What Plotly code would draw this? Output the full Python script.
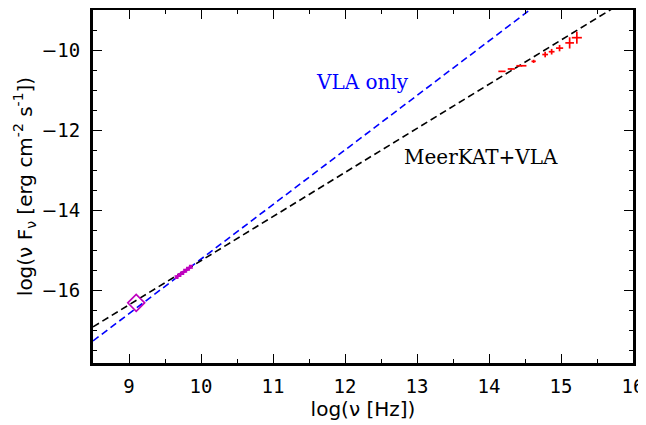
import plotly.graph_objects as go

# Model lines (log nu, log nuFnu) endpoints
model_x = [8.5, 16.0]
meerkat_vla_y = [-16.9, -8.65]
vla_only_y = [-17.25, -7.05]

# Radio data (purple)
radio_diamond_x = [9.10]
radio_diamond_y = [-16.30]
radio_x = [9.66, 9.70, 9.74, 9.78, 9.82, 9.86]
radio_y = [-15.66, -15.61, -15.56, -15.50, -15.45, -15.40]
radio_err = [0.03, 0.03, 0.03, 0.03, 0.03, 0.03]

# Optical/IR data (red)
opt_x = [14.18, 14.31, 14.45, 14.62, 14.78, 14.87, 14.98, 15.12, 15.22]
opt_y = [-10.53, -10.47, -10.39, -10.28, -10.11, -10.04, -9.95, -9.82, -9.69]
opt_xerr = [0.05, 0.05, 0.07, 0.03, 0.04, 0.04, 0.05, 0.06, 0.07]
opt_yerr = [0.01, 0.01, 0.02, 0.04, 0.07, 0.07, 0.08, 0.14, 0.15]

# Tick labels
x_ticks = [9, 10, 11, 12, 13, 14, 15, 16]
y_ticks = [-16, -14, -12, -10]

fig = go.Figure()

fig.add_trace(go.Scatter(x=model_x, y=vla_only_y, mode="lines",
                         line=dict(color="#0000ff", width=1.6, dash="7px,4px"),
                         showlegend=False, hoverinfo="skip"))
fig.add_trace(go.Scatter(x=model_x, y=meerkat_vla_y, mode="lines",
                         line=dict(color="black", width=1.6, dash="7px,4px"),
                         showlegend=False, hoverinfo="skip"))

fig.add_trace(go.Scatter(x=radio_x, y=radio_y, mode="lines+markers",
                         line=dict(color="#bf00bf", width=3),
                         marker=dict(color="#bf00bf", size=3),
                         error_y=dict(type="data", array=radio_err, color="#bf00bf", thickness=1.5, width=2),
                         showlegend=False))
fig.add_trace(go.Scatter(x=radio_diamond_x, y=radio_diamond_y, mode="markers",
                         marker=dict(symbol="diamond-open", color="#bf00bf", size=13,
                                     line=dict(width=1.6, color="#bf00bf")),
                         showlegend=False))

fig.add_trace(go.Scatter(x=opt_x, y=opt_y, mode="markers",
                         marker=dict(color="red", size=1),
                         error_x=dict(type="data", array=opt_xerr, color="red", thickness=1.7, width=0),
                         error_y=dict(type="data", array=opt_yerr, color="red", thickness=1.7, width=0),
                         showlegend=False))

fig.add_annotation(x=12.24, y=-10.79, text="VLA only", showarrow=False,
                   font=dict(family="DejaVu Serif", size=20, color="#0000ff"))
fig.add_annotation(x=13.89, y=-12.66, text="MeerKAT+VLA", showarrow=False,
                   font=dict(family="DejaVu Serif", size=20, color="black"))

axis_common = dict(
    showgrid=False, zeroline=False,
    showline=True, linecolor="black", linewidth=3, mirror="allticks",
    ticks="inside", ticklen=9, tickwidth=1.3, tickcolor="black",
    tickfont=dict(family="DejaVu Sans Mono", size=19, color="black"),
    minor=dict(ticks="inside", ticklen=4, tickwidth=1.1, tickcolor="black", dtick=0.5),
)

fig.update_xaxes(range=[8.5, 16.0], tickvals=x_ticks, ticktext=[str(v) for v in x_ticks],
                 ticklabelstandoff=4, **axis_common,
                 title=dict(text="log(ν [Hz])", font=dict(family="DejaVu Sans", size=20, color="black"),
                            standoff=3))
fig.update_yaxes(range=[-17.8, -9.0], tickvals=y_ticks,
                 ticktext=["<span style='font-family:DejaVu Sans'>\u2212</span>" + str(abs(v)) for v in y_ticks],
                 ticklabelstandoff=6, **axis_common,
                 title=dict(text="log(ν F<sub>ν</sub> [erg cm<sup>-2</sup> s<sup>-1</sup>])",
                            font=dict(family="DejaVu Sans", size=20, color="black"), standoff=4))

# page body has an 8px default margin; compensate so the plot area lands at x 93..633, y 10..363
fig.update_layout(width=638, height=417,
                  margin=dict(l=85, r=13, t=2, b=62, autoexpand=False),
                  paper_bgcolor="white", plot_bgcolor="white")

fig.write_html("out.html")
